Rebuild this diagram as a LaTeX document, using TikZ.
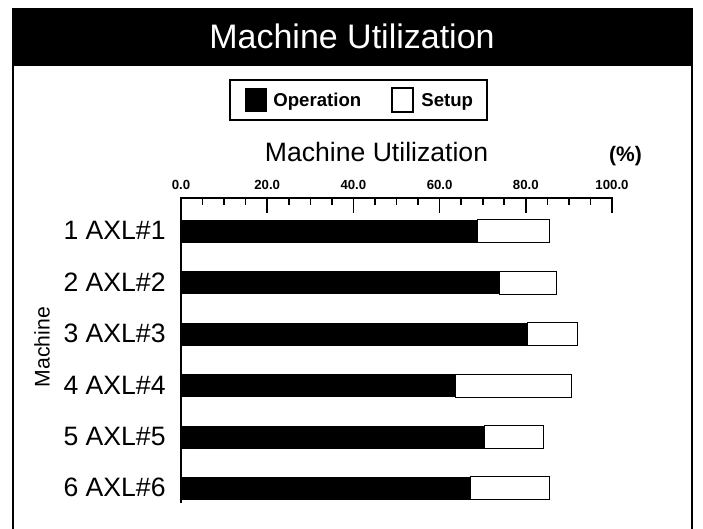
\documentclass[tikz,border=0pt]{standalone}
\usepackage{fontspec}
\setmainfont{Liberation Sans}
\usetikzlibrary{positioning}

\tikzset{
  hdrtxt/.style={white, font=\fontsize{17}{20}\selectfont, inner sep=0pt},
  legtxt/.style={font=\bfseries\fontsize{9.3}{11}\selectfont, inner sep=0pt, anchor=base west},
  subtxt/.style={font=\fontsize{13.3}{16}\selectfont, inner sep=0pt, anchor=base},
  ticktxt/.style={font=\bfseries\fontsize{6.6}{8}\selectfont, inner sep=0pt, anchor=base},
  machtxt/.style={font=\fontsize{13.3}{16}\selectfont, inner sep=0pt, anchor=base east},
  opbar/.style={fill=black},
  setupbar/.style={draw=black, fill=white, line width=0.5pt},
}

\begin{document}
\begin{tikzpicture}[x=0.5pt, y=-0.5pt]
  % --- sizes (in pixels, y runs downward) ---
  \def\axisL{181}     % x of 0 %
  \def\pxPer{4.31}    % pixels per percent
  \def\axisY{198}     % top line of the scale
  \def\barHalf{11.5}
  \def\rowOne{231.5}
  \def\rowStep{51.4}

  \useasboundingbox (0,0) rectangle (703,529);

  % --- frame and black header ---
  \fill[black] (12,8) rectangle (693,66);
  \draw[line width=1.3pt] (13,66) -- (13,529);
  \draw[line width=1.3pt] (692,66) -- (692,529);
  \node[hdrtxt, anchor=base] (title) at (352,49) {Machine Utilization};

  % --- legend ---
  \draw[line width=0.6pt] (230,80) rectangle (487,120);
  \fill[black] (245,88) rectangle (267,112);
  \node[legtxt] (opLbl) at (273,107) {Operation};
  \draw[line width=0.6pt] (392,88) rectangle (413,112);
  \node[legtxt] (suLbl) at (421,107) {Setup};

  % --- axis title ---
  \node[subtxt] (axTitle) at (376.5,162) {Machine Utilization};
  \node[subtxt, font=\bfseries\fontsize{10.5}{12}\selectfont] (pct) at (625.5,162) {(\%)};

  % --- scale ---
  \draw[line width=0.8pt] (\axisL,503) -- (\axisL,\axisY) -- (612,\axisY) -- (612,213);
  \foreach \v in {5,10,...,95}
    \draw[line width=0.8pt] (\axisL+\v*\pxPer,\axisY) -- (\axisL+\v*\pxPer,205);
  \foreach \v in {20,40,60,80}
    \draw[line width=0.8pt] (\axisL+\v*\pxPer,\axisY) -- (\axisL+\v*\pxPer,213);
  \foreach \v in {0,20,40,60,80,100}
    \node[ticktxt] (tick\v) at (\axisL+\v*\pxPer,190) {\v.0};

  % --- bars: operation (black) then setup (white) ---
  \foreach \i/\op/\tot in {1/68.9/85.4, 2/74.0/87.2, 3/80.5/91.9,
                           4/63.8/90.5, 5/70.5/84.0, 6/67.1/85.4} {
    \pgfmathsetmacro{\yc}{\rowOne+(\i-1)*\rowStep}
    \fill[opbar] (\axisL,\yc-\barHalf) rectangle (\axisL+\op*\pxPer,\yc+\barHalf);
    \draw[setupbar] (\axisL+\op*\pxPer,\yc-\barHalf) rectangle (\axisL+\tot*\pxPer,\yc+\barHalf);
    \node[machtxt] (mach\i) at (166,\yc+8.5) {\i\ AXL\#\i};
  }

  \node[font=\fontsize{10.6}{12}\selectfont, rotate=90, inner sep=0pt] (yTitle) at (42,347) {Machine};
\end{tikzpicture}
\end{document}
